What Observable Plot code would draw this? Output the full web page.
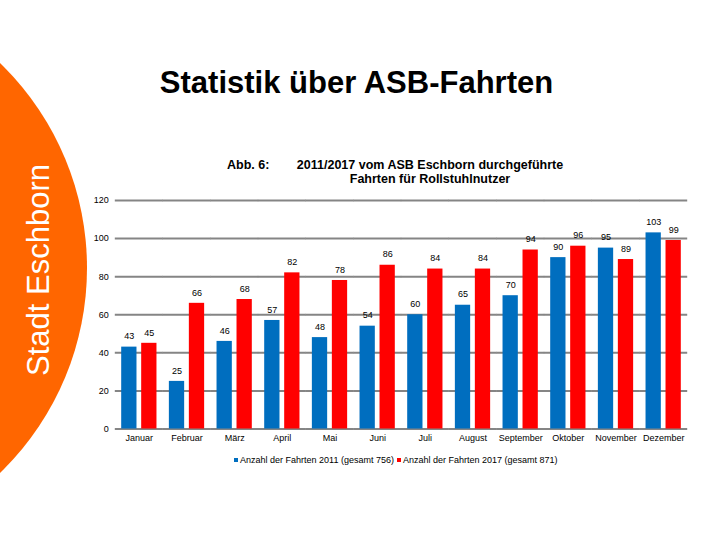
<!DOCTYPE html>
<html>
<head>
<meta charset="utf-8">
<script src="https://cdn.jsdelivr.net/npm/d3@7"></script>
<script src="https://cdn.jsdelivr.net/npm/@observablehq/plot@0.6"></script>
<style>
  html, body { margin: 0; padding: 0; background: #fff; }
  #wrap { position: relative; width: 720px; height: 540px; overflow: hidden; background: #fff; font-family: "Liberation Sans", Arial, sans-serif; }
  #circle { position: absolute; left: -483px; top: -17px; width: 570px; height: 570px; border-radius: 50%; background: #FF6600; }
  #side { position: absolute; left: 38px; top: 270px; transform: translate(-50%, -50%) rotate(-90deg); color: #fff; font-size: 31px; white-space: nowrap; line-height: 1; }
  #title { position: absolute; left: 0; width: 713px; top: 64px; text-align: center; font-size: 31px; font-weight: bold; color: #000; line-height: 38px; white-space: nowrap; }
  #abb { position: absolute; left: 227px; top: 159px; font-size: 12.5px; font-weight: bold; line-height: 13.5px; }
  #sub { position: absolute; left: 280px; width: 300px; top: 159px; font-size: 12.5px; font-weight: bold; line-height: 13.5px; text-align: center; }
  #chart { position: absolute; left: 0; top: 0; }
  .leg { position: absolute; top: 454px; font-size: 9px; line-height: 12px; white-space: nowrap; display: flex; align-items: center; }
  .leg .sw { width: 4px; height: 4px; margin-right: 2px; display: inline-block; }
</style>
</head>
<body>
<div id="wrap">
  <div id="circle"></div>
  <div id="side">Stadt Eschborn</div>
  <div id="chart"></div>
  <div id="title">Statistik über ASB-Fahrten</div>
  <div id="abb">Abb. 6:</div>
  <div id="sub">2011/2017 vom ASB Eschborn durchgeführte<br>Fahrten für Rollstuhlnutzer</div>
  <div class="leg" id="leg1" style="left:234px"><span class="sw" style="background:#006EBF"></span><span>Anzahl der Fahrten 2011 (gesamt 756)</span></div>
  <div class="leg" id="leg2" style="left:397px"><span class="sw" style="background:#FF0000"></span><span>Anzahl der Fahrten 2017 (gesamt 871)</span></div>
</div>
<script>
const months = ["Januar","Februar","März","April","Mai","Juni","Juli","August","September","Oktober","November","Dezember"];
const years = [2011, 2017];
const fahrten2011 = [43, 25, 46, 57, 48, 54, 60, 65, 70, 90, 95, 103];
const fahrten2017 = [45, 66, 68, 82, 78, 86, 84, 84, 94, 96, 89, 99];
const yTicks = [0, 20, 40, 60, 80, 100, 120];
const colors = ["#006EBF", "#FF0000"];

const data = months.flatMap((m, i) => [
  {month: m, year: 2011, value: fahrten2011[i]},
  {month: m, year: 2017, value: fahrten2017[i]}
]);

// half of the gap between month groups, so per-facet grid lines join up
const gridInset = -6.4;

const chart = Plot.plot({
  width: 720,
  height: 540,
  marginTop: 200,
  marginBottom: 111.5,
  marginLeft: 115,
  marginRight: 33,
  style: {background: "transparent", fontFamily: "'Liberation Sans', Arial, sans-serif", fontSize: "9px", color: "#000"},
  fx: {domain: months, paddingInner: 0.26, paddingOuter: 0.13, round: false, label: null, axis: null},
  x: {domain: years, paddingInner: 0.235, paddingOuter: 0, round: false, axis: null},
  y: {domain: [0, 120], label: null, axis: null},
  color: {domain: years, range: colors},
  marks: [
    Plot.ruleY(yTicks, {stroke: "#858585", strokeWidth: 2, insetLeft: gridInset, insetRight: gridInset}),
    Plot.axisY({ticks: yTicks, tickSize: 0, tickPadding: 13, label: null, fontSize: 9}),
    Plot.axisFx({anchor: "bottom", tickSize: 0, tickPadding: 6, label: null, fontSize: 9}),
    Plot.barY(data, {fx: "month", x: "year", y: "value", fill: "year"}),
    Plot.text(data, {fx: "month", x: "year", y: "value", text: d => String(d.value), dy: -10.7, fontSize: 9, fill: "#000"})
  ]
});
document.getElementById("chart").appendChild(chart);
</script>
</body>
</html>
